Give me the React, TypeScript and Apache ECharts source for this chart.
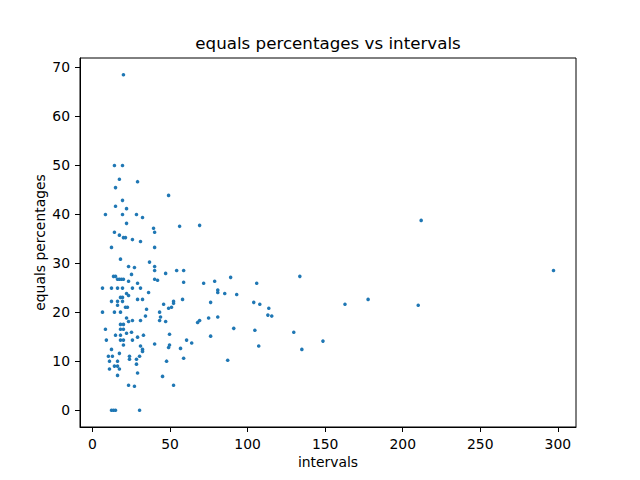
import React, { useEffect, useRef } from "react";
import * as echarts from "echarts";

const intervals: number[] = [
  20.0, 14.2, 19.4, 17.4, 29.1, 14.9, 19.4, 14.9, 22.0, 8.4, 19.4, 28.4, 32.3, 22.0, 14.2, 17.4, 20.0, 21.3, 25.8, 31.0, 12.3, 49.1, 39.4, 56.2, 69.1, 40.1, 40.1,
  18.1, 23.3, 27.1, 25.2, 13.6, 14.9, 16.2, 17.4, 18.7, 20.0, 23.3, 29.1, 6.5, 12.3, 16.2, 19.4, 25.8, 31.0, 22.0, 23.3, 18.1, 19.4, 29.1, 32.3, 12.3, 16.2, 19.4, 16.2, 21.3, 22.6, 34.9, 6.5, 14.2, 18.1, 34.2, 22.0, 23.3, 25.8, 31.0, 18.1, 20.0, 8.4, 18.1, 20.0,
  36.8, 40.1, 40.1, 47.2, 54.3, 58.8, 40.1, 42.0, 58.8, 71.7, 36.2, 58.1, 52.3, 52.3, 45.9, 51.0, 49.1, 43.3, 43.9, 43.3, 47.2, 69.1, 67.8,
  22.0, 25.2, 14.9, 18.1, 29.1, 32.9, 9.0, 18.1, 20.0, 25.8, 20.0, 31.0, 32.3, 32.3, 12.3, 17.4, 10.3, 12.9, 23.9, 30.4, 23.9, 28.4, 11.0, 16.2, 28.4, 14.2, 16.2, 11.0, 17.4, 29.1, 16.2, 23.3, 27.1, 12.3, 13.6, 14.9, 30.4,
  49.7, 40.1, 49.7, 49.1, 60.7, 64.0, 56.8, 58.8, 47.8, 45.2, 52.3,
  78.8, 89.1, 105.9, 133.7, 80.8, 80.8, 85.3, 93.0, 76.2, 104.0, 107.9, 113.7, 113.1, 115.6, 74.9, 80.8, 91.1, 104.7, 129.8, 76.2, 148.6, 107.2, 135.0, 87.2,
  211.9, 297.2, 177.7, 162.8, 210.0,
];

const equalsPercentages: number[] = [
  68.4, 49.9, 49.9, 47.1, 46.6, 45.4, 42.8, 41.6, 41.1, 39.9, 39.9, 39.9, 39.3, 38.1, 36.3, 35.7, 35.2, 35.2, 34.8, 34.4, 33.2, 43.8, 37.1, 37.5, 37.7, 36.3, 33.2,
  30.8, 29.3, 29.1, 27.7, 27.3, 27.3, 26.7, 26.7, 26.7, 26.7, 26.3, 25.9, 24.9, 24.9, 24.9, 24.9, 24.9, 24.9, 23.8, 23.4, 23.0, 23.0, 22.6, 22.6, 22.2, 22.2, 22.2, 21.4, 21.0, 21.0, 20.6, 20.0, 20.0, 20.0, 19.2, 18.8, 18.1, 18.3, 18.3, 17.5, 17.5, 16.5, 16.5, 16.5,
  30.2, 29.3, 28.5, 27.9, 28.5, 28.5, 26.7, 26.5, 26.1, 25.9, 24.0, 22.6, 22.2, 21.8, 21.6, 21.0, 20.8, 20.0, 19.0, 18.3, 18.1, 18.3, 17.9,
  15.7, 15.9, 15.3, 15.3, 14.9, 15.3, 14.3, 14.3, 14.3, 14.3, 13.3, 13.1, 12.4, 12.0, 12.4, 11.6, 11.0, 11.0, 11.0, 11.0, 10.4, 10.4, 10.0, 10.0, 9.4, 9.0, 9.0, 8.4, 8.4, 7.6, 7.1, 5.1, 4.9, 0, 0, 0, 0,
  15.5, 13.5, 13.3, 12.8, 14.3, 13.7, 12.6, 10.6, 10.0, 6.9, 5.1,
  26.3, 27.1, 25.9, 27.3, 24.5, 24.0, 23.8, 23.6, 22.0, 22.0, 21.6, 20.8, 19.4, 19.2, 18.8, 19.0, 16.7, 16.3, 15.9, 15.1, 14.1, 13.1, 12.4, 10.2,
  38.7, 28.5, 22.6, 21.6, 21.4,
];

const xTicks: number[] = [0, 50, 100, 150, 200, 250, 300];
const yTicks: number[] = [0, 10, 20, 30, 40, 50, 60, 70];

const titleText = "equals percentages vs intervals";
const xName = "intervals";
const yName = "equals percentages";

const FONT = "DejaVu Sans";

export default function App() {
  const ref = useRef<HTMLDivElement>(null);
  useEffect(() => {
    if (!ref.current) return;
    const chart = echarts.init(ref.current, undefined, { renderer: "svg" });
    const points = intervals.map((x, i) => [x, equalsPercentages[i]]);
    const axisCommon = {
      axisLine: { show: true, onZero: false, lineStyle: { color: "#000", width: 1 } },
      splitLine: { show: false },
      nameMoveOverlap: false,
      nameTextStyle: { color: "#000", fontFamily: FONT, fontSize: 13.9 },
    };
    chart.setOption({
      animation: false,
      backgroundColor: "#fff",
      grid: {
        left: 80,
        right: 64,
        top: 58,
        bottom: 53,
        show: true,
        borderColor: "#000",
        borderWidth: 1,
        backgroundColor: "transparent",
      },
      graphic: [
        {
          type: "text",
          x: 328,
          y: 43,
          style: {
            text: titleText,
            textAlign: "center",
            textVerticalAlign: "middle",
            fontFamily: FONT,
            fontSize: 16.7,
            fill: "#000",
          },
        },
      ],
      xAxis: {
        type: "value",
        min: -8.0,
        max: 311.7,
        name: xName,
        nameLocation: "middle",
        nameGap: 28,
        ...axisCommon,
        axisTick: {
          show: true,
          inside: false,
          length: 5,
          customValues: xTicks,
          lineStyle: { color: "#000", width: 1 },
        },
        axisLabel: {
          show: true,
          margin: 10,
          customValues: xTicks,
          color: "#000",
          fontFamily: FONT,
          fontSize: 13.9,
        },
      },
      yAxis: {
        type: "value",
        min: -3.42,
        max: 71.82,
        name: yName,
        nameLocation: "middle",
        nameGap: 33,
        ...axisCommon,
        axisTick: {
          show: true,
          inside: false,
          length: 5,
          customValues: yTicks,
          lineStyle: { color: "#000", width: 1 },
        },
        axisLabel: {
          show: true,
          margin: 10,
          customValues: yTicks,
          color: "#000",
          fontFamily: FONT,
          fontSize: 13.9,
        },
      },
      series: [
        {
          type: "scatter",
          data: points,
          symbol: "circle",
          symbolSize: 3.6,
          itemStyle: { color: "#1f77b4", opacity: 1 },
        },
      ],
    });
    return () => chart.dispose();
  }, []);
  return (
    <div
      ref={ref}
      style={{ position: "absolute", left: 0, top: 0, width: 640, height: 480, background: "#fff" }}
    />
  );
}
